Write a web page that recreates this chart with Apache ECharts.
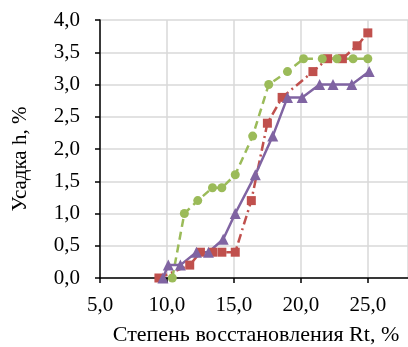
<!DOCTYPE html>
<html>
<head>
<meta charset="utf-8">
<script src="https://cdn.jsdelivr.net/npm/echarts@6/dist/echarts.min.js"></script>
<style>html,body{margin:0;padding:0;background:#fff}#c{width:408px;height:347px}</style>
</head>
<body>
<div id="c"></div>
<script>
var redX = [9.4, 11.7, 12.5, 13.4, 14.1, 15.1, 16.3, 17.5, 18.6, 20.9, 22.0, 23.1, 24.2, 25.0];
var redY = [0.0, 0.2, 0.4, 0.4, 0.4, 0.4, 1.2, 2.4, 2.8, 3.2, 3.4, 3.4, 3.6, 3.8];
var greenX = [10.4, 11.3, 12.3, 13.4, 14.1, 15.1, 16.4, 17.6, 19.0, 20.2, 21.6, 22.7, 23.9, 25.0];
var greenY = [0.0, 1.0, 1.2, 1.4, 1.4, 1.6, 2.2, 3.0, 3.2, 3.4, 3.4, 3.4, 3.4, 3.4];
var purpleX = [9.7, 10.1, 11.0, 12.2, 13.1, 14.2, 15.1, 16.6, 17.9, 19.0, 20.1, 21.4, 22.4, 23.8, 25.1];
var purpleY = [0.0, 0.2, 0.2, 0.4, 0.4, 0.6, 1.0, 1.6, 2.2, 2.8, 2.8, 3.0, 3.0, 3.0, 3.2];
var xTitle = 'Степень восстановления Rt, %';
var yTitle = 'Усадка h, %';

function pairs(xs, ys) { return xs.map(function (x, i) { return [x, ys[i]]; }); }
function fmt(v) { return v.toFixed(1).replace('.', ','); }

var font = '"Liberation Serif", "Times New Roman", serif';
var chart = echarts.init(document.getElementById('c'), null, {renderer: 'canvas'});
chart.setOption({
  animation: false,
  backgroundColor: '#fff',
  grid: {left: 100, right: 0, top: 20, bottom: 69, containLabel: false, outerBoundsMode: 'none'},
  xAxis: {
    type: 'value', min: 5, max: 28, interval: 5,
    name: xTitle, nameLocation: 'middle', nameGap: 46,
    nameTextStyle: {fontFamily: font, fontSize: 22, color: '#000', padding: [0, 0, 0, 4]},
    axisLine: {show: true, onZero: false, lineStyle: {color: '#000', width: 1.5}},
    axisTick: {show: true, inside: false, length: 5, lineStyle: {color: '#000', width: 1.5}},
    axisLabel: {fontFamily: font, fontSize: 21, color: '#000', margin: 17, showMaxLabel: false, formatter: fmt},
    splitLine: {show: true, lineStyle: {color: '#D9D9D9', width: 1.5}}
  },
  yAxis: {
    type: 'value', min: 0, max: 4, interval: 0.5,
    name: yTitle, nameLocation: 'middle', nameGap: 69, nameRotate: 90,
    nameTextStyle: {fontFamily: font, fontSize: 21, color: '#000', padding: [0, 20, 0, 0]},
    axisLine: {show: true, lineStyle: {color: '#000', width: 1.5}},
    axisTick: {show: true, inside: false, length: 5, lineStyle: {color: '#000', width: 1.5}},
    axisLabel: {fontFamily: font, fontSize: 21, color: '#000', margin: 20, formatter: fmt},
    splitLine: {show: true, lineStyle: {color: '#D9D9D9', width: 1.5}}
  },
  series: [
    {
      type: 'line', data: pairs(redX, redY), symbol: 'rect', symbolSize: 9,
      itemStyle: {color: '#C0504D'},
      lineStyle: {color: '#C0504D', width: 2.5, type: [9, 4, 2, 4]}
    },
    {
      type: 'line', data: pairs(greenX, greenY), symbol: 'circle', symbolSize: 9,
      itemStyle: {color: '#9BBB59'},
      lineStyle: {color: '#9BBB59', width: 2.5, type: [8, 5]}
    },
    {
      type: 'line', data: pairs(purpleX, purpleY), symbol: 'triangle', symbolSize: 11,
      itemStyle: {color: '#8064A2'},
      lineStyle: {color: '#8064A2', width: 2.5, type: 'solid'}
    }
  ]
});
</script>
</body>
</html>
